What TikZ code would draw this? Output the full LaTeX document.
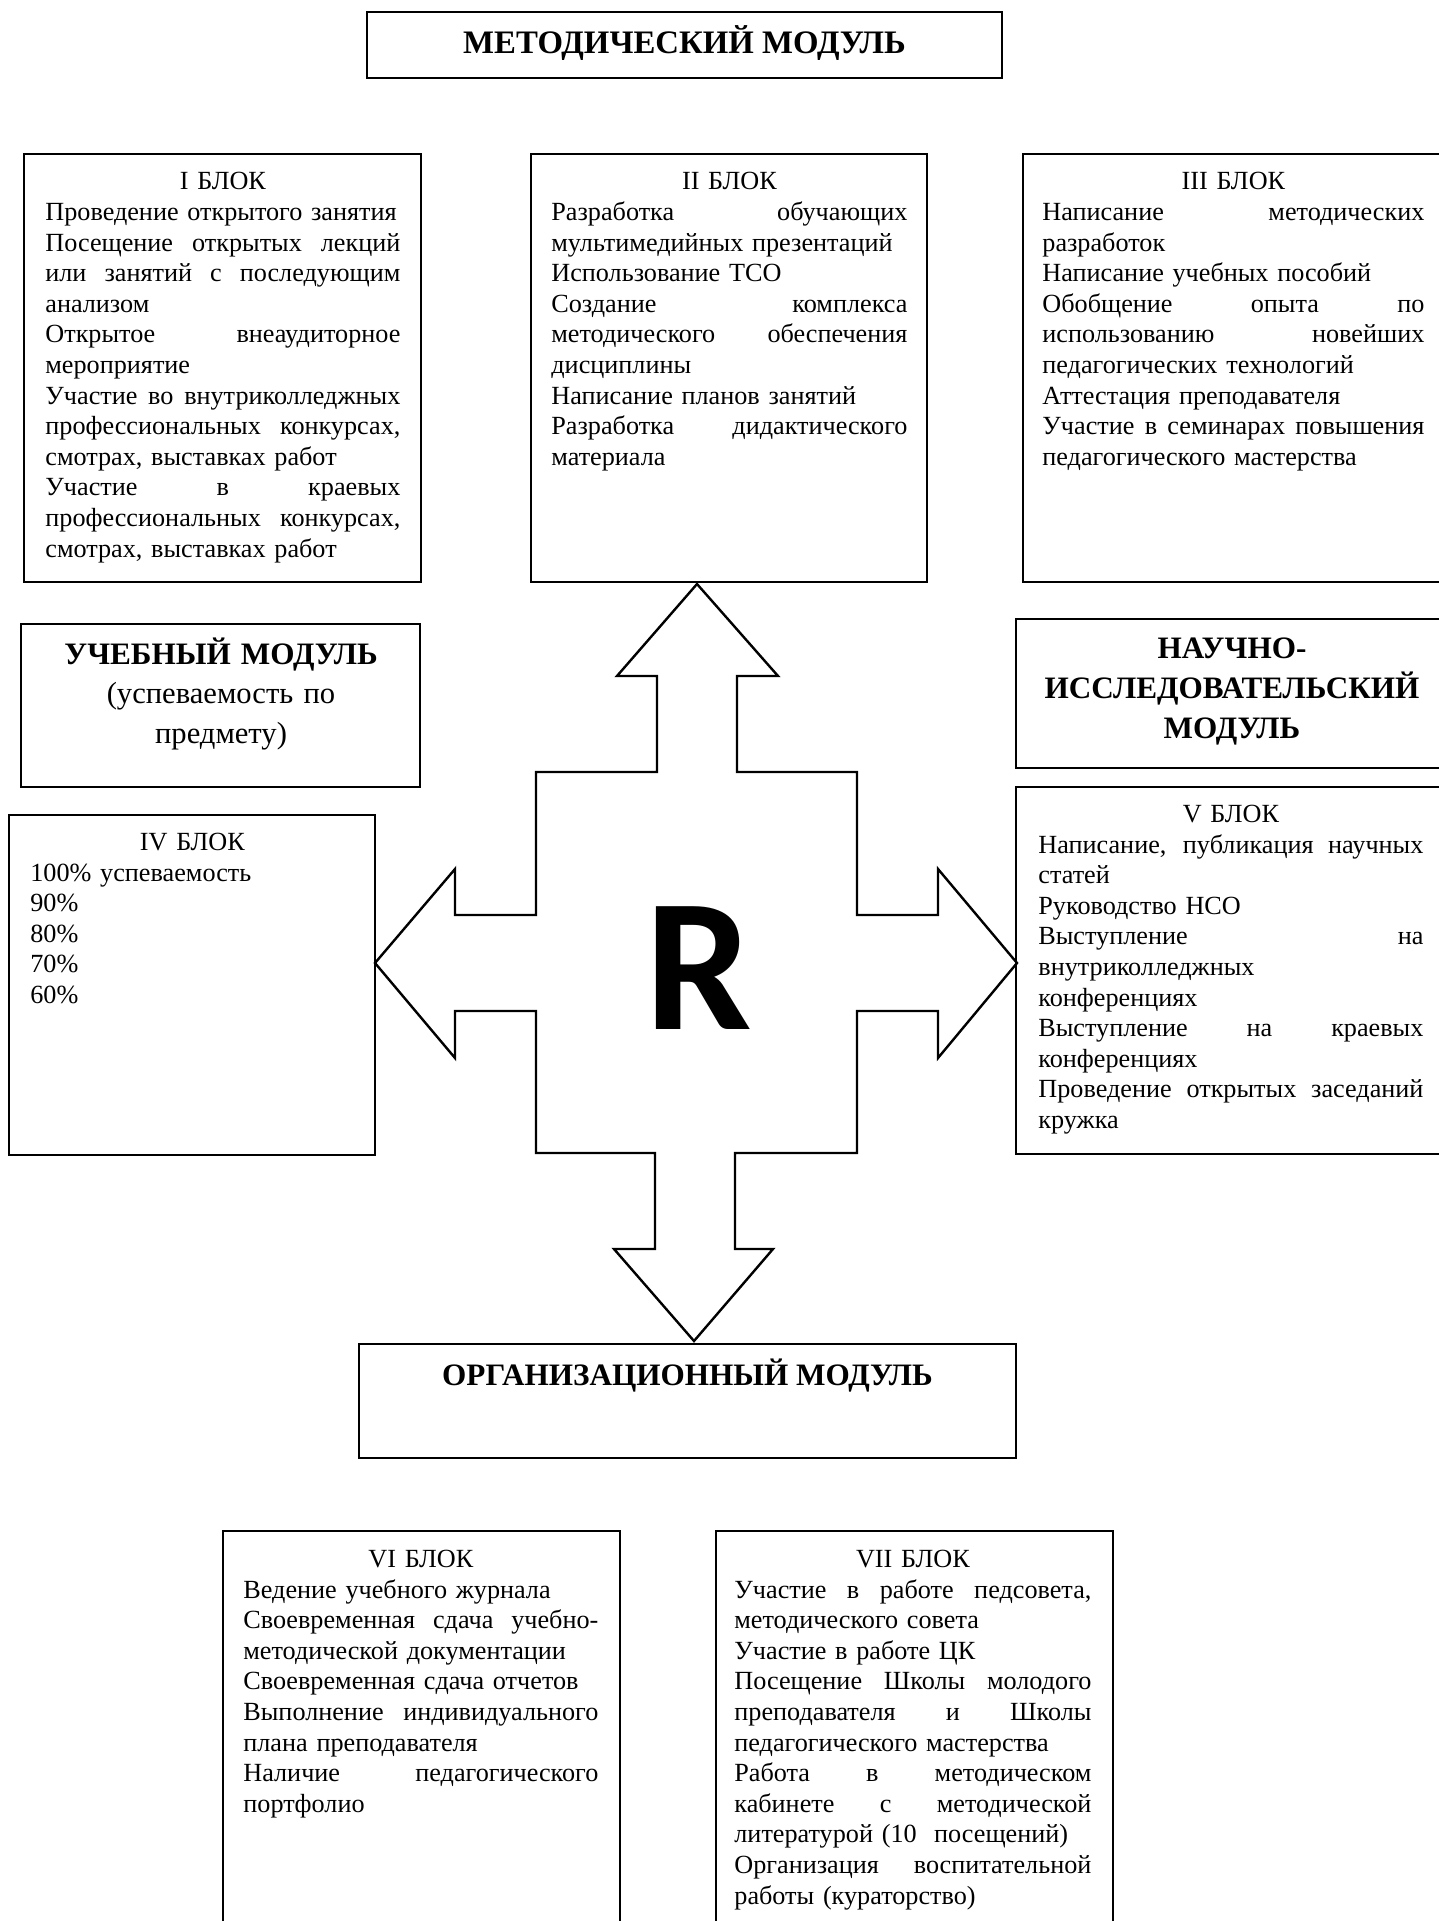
\documentclass[tikz,border=0pt]{standalone}
\usepackage{fontspec}
\setmainfont{Liberation Serif}
\newfontfamily\rfont{Carlito}
\setlength\parindent{0pt}
\tikzset{
  x=0.5pt, y=-0.5pt,
  frame/.style={draw=black, line width=1.2pt},
  body/.style={anchor=north west, inner sep=0pt, align=left,
    font=\fontsize{13.1pt}{15.3pt}\selectfont},
  ttl/.style={anchor=base, inner sep=0pt,
    font=\bfseries\fontsize{15.6pt}{19.75pt}\selectfont},
  ttlbox/.style={anchor=north, inner sep=0pt, align=center,
    font=\fontsize{15.3pt}{19.75pt}\selectfont},
}
\newcommand\jl[1]{\leavevmode\hbox to\hsize{\spaceskip=0.25em plus 1fil\relax #1}}
\newcommand\hd[1]{\leavevmode\hbox to\hsize{\hfil\rule{0pt}{13pt}#1\hfil}}
\begin{document}
\begin{tikzpicture}
\useasboundingbox (0,0) rectangle (1439,1921);
\clip (0,0) rectangle (1439,1921);
\fill[white] (0,0) rectangle (1439,1921);

% module boxes
\draw[frame] (367,12) rectangle (1002,78);
\node[ttl, font=\bfseries\fontsize{16.4pt}{19.75pt}\selectfont] (metmod) at (684.5,54) {МЕТОДИЧЕСКИЙ МОДУЛЬ};

\draw[frame] (21,624) rectangle (420,787);
\node[ttlbox, text width=195pt] (uchmod) at (221,634)
  {\rule{0pt}{15pt}{\bfseries\fontsize{15.6pt}{19.75pt}\selectfont УЧЕБНЫЙ МОДУЛЬ}\\(успеваемость по\\предмету)};

\draw[frame] (1016,619) rectangle (1448,768);
\node[ttlbox, text width=210pt, font=\bfseries\fontsize{15.6pt}{20pt}\selectfont] (naumod) at (1232,628)
  {\rule{0pt}{15pt}НАУЧНО-\\ИССЛЕДОВАТЕЛЬСКИЙ\\МОДУЛЬ};

\draw[frame] (359,1344) rectangle (1016,1458);
\node[ttl] (orgmod) at (687.5,1385) {ОРГАНИЗАЦИОННЫЙ МОДУЛЬ};

% blocks
\draw[frame] (24,154) rectangle (421,582);
\node[body, text width=177.5pt] (b1) at (45,163.5) {%
\hd{I БЛОК}\\
Проведение открытого занятия\\
\jl{Посещение открытых лекций}\\
\jl{или занятий с последующим}\\
анализом\\
\jl{Открытое внеаудиторное}\\
мероприятие\\
\jl{Участие во внутриколледжных}\\
\jl{профессиональных конкурсах,}\\
смотрах, выставках работ\\
\jl{Участие в краевых}\\
\jl{профессиональных конкурсах,}\\
смотрах, выставках работ};

\draw[frame] (531,154) rectangle (927,582);
\node[body, text width=178pt] (b2) at (551,163.5) {%
\hd{II БЛОК}\\
\jl{Разработка обучающих}\\
мультимедийных презентаций\\
Использование ТСО\\
\jl{Создание комплекса}\\
\jl{методического обеспечения}\\
дисциплины\\
Написание планов занятий\\
\jl{Разработка дидактического}\\
материала};

\draw[frame] (1023,154) rectangle (1445,582);
\node[body, text width=191pt] (b3) at (1042,163.5) {%
\hd{III БЛОК}\\
\jl{Написание методических}\\
разработок\\
Написание учебных пособий\\
\jl{Обобщение опыта по}\\
\jl{использованию новейших}\\
педагогических технологий\\
Аттестация преподавателя\\
\jl{Участие в семинарах повышения}\\
педагогического мастерства};

\draw[frame] (9,815) rectangle (375,1155);
\node[body, text width=162pt] (b4) at (30,824) {%
\hd{IV БЛОК}\\
100\% успеваемость\\
90\%\\
80\%\\
70\%\\
60\%};

\draw[frame] (1016,787) rectangle (1448,1154);
\node[body, text width=192.5pt] (b5) at (1038,796) {%
\hd{V БЛОК}\\
\jl{Написание, публикация научных}\\
статей\\
Руководство НСО\\
\jl{Выступление на}\\
внутриколледжных\\
конференциях\\
\jl{Выступление на краевых}\\
конференциях\\
\jl{Проведение открытых заседаний}\\
кружка};

\draw[frame] (223,1531) rectangle (620,1980);
\node[body, text width=177.5pt] (b6) at (243,1541) {%
\hd{VI БЛОК}\\
Ведение учебного журнала\\
\jl{Своевременная сдача учебно-}\\
методической документации\\
Своевременная сдача отчетов\\
\jl{Выполнение индивидуального}\\
плана преподавателя\\
\jl{Наличие педагогического}\\
портфолио};

\draw[frame] (716,1531) rectangle (1113,1980);
\node[body, text width=178.5pt] (b7) at (734,1541) {%
\hd{VII БЛОК}\\
\jl{Участие в работе педсовета,}\\
методического совета\\
Участие в работе ЦК\\
\jl{Посещение Школы молодого}\\
\jl{преподавателя и Школы}\\
педагогического мастерства\\
\jl{Работа в методическом}\\
\jl{кабинете с методической}\\
литературой (10\ \ посещений)\\
\jl{Организация воспитательной}\\
работы (кураторство)};

% central four-way arrow
\draw[frame, line join=miter] (697,584) -- (778,676) -- (737,676) -- (737,772)
  -- (857,772) -- (857,915) -- (938,915) -- (938,869) -- (1017,963)
  -- (938,1058) -- (938,1011) -- (857,1011) -- (857,1153) -- (735,1153)
  -- (735,1249) -- (773,1249) -- (694,1341) -- (614,1249) -- (655,1249)
  -- (655,1153) -- (536,1153) -- (536,1011) -- (455,1011) -- (455,1058)
  -- (375,963) -- (455,869) -- (455,915) -- (536,915) -- (536,772)
  -- (657,772) -- (657,676) -- (617,676) -- cycle;
\node[inner sep=0pt, font=\rfont\bfseries\fontsize{94.7pt}{100pt}\selectfont] (rr) at (699,968) {R};
\end{tikzpicture}
\end{document}
